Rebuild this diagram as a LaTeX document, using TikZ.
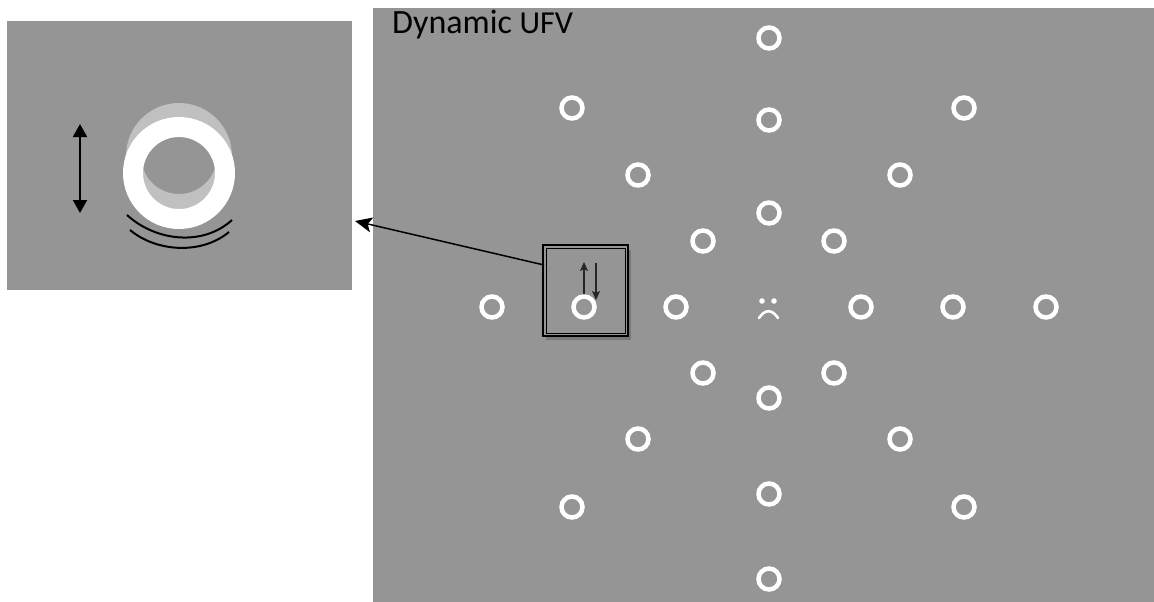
\documentclass[tikz,border=0pt]{standalone}
\usepackage{fontspec}
\setmainfont{Carlito}
\usetikzlibrary{arrows.meta}
\definecolor{bg}{RGB}{149,149,149}
\definecolor{ltgray}{RGB}{192,192,192}
\definecolor{boxshadow}{RGB}{120,120,120}
\begin{document}
\begin{tikzpicture}[x=1pt,y=-1pt,
  ring/.style={circle,draw=white,line width=4.5pt,minimum size=21pt,inner sep=0pt},
  panel/.style={rectangle,fill=bg,inner sep=0pt},
  link/.style={line width=1.5pt,-{Stealth[length=17pt,width=15pt,inset=4pt]}},
  dart/.style={line width=1.3pt,draw=black!85,-{Stealth[length=9pt,width=8pt,inset=2pt]}}]
\useasboundingbox (0,0) rectangle (1154,602);
\fill[white] (0,0) rectangle (1154,602);
% panels
\node[panel,minimum width=345pt,minimum height=269pt] (inset) at (179.5,155.5) {};
\node[panel,minimum width=781pt,minimum height=594pt] (main) at (763.5,305) {};
% title
\node[anchor=base west,inner sep=0pt] (title) at (392,34) {\fontsize{34}{38}\selectfont Dynamic \fontsize{32}{36}\selectfont UFV};
% inset content
\fill[ltgray,even odd rule] (179,156) circle[radius=53] (179,156) circle[radius=38];
\fill[white,even odd rule] (179,173) circle[radius=56] (179,173) circle[radius=36];
\coordinate (ia) at (80,124);
\coordinate (ib) at (80,213);
\draw[line width=2pt,{Triangle[length=13pt,width=14pt]}-{Triangle[length=13pt,width=14pt]}] (ia) -- (ib);
\draw[line width=2pt] (127,215) .. controls (156,241.5) and (203,246.5) .. (232,220);
\draw[line width=2pt] (130,230) .. controls (157,252.5) and (202,254.5) .. (229,232);
% highlighted box
\fill[boxshadow] (546,250) rectangle (631,340);
\node[rectangle,draw=black,line width=2pt,fill=bg,minimum width=85pt,minimum height=91pt,inner sep=0pt] (box) at (585.5,290.5) {};
\draw[line width=0.9pt] ([shift={(4,4)}]box.north west) rectangle ([shift={(-4,-4)}]box.south east);
\coordinate (ua) at (584,297);
\coordinate (ub) at (584,262);
\coordinate (da) at (596,263);
\coordinate (db) at (596,300);
\draw[dart] (ua) -- (ub);
\draw[dart] (da) -- (db);
% link arrow
\coordinate (la) at (544,265);
\coordinate (lb) at (355,221);
\draw[link] (la) -- (lb);
% rings
\foreach \n/\x/\y in {n3/769/38,n2/769/120,n1/769/213,s1/769/398,s2/769/494,s3/769/579,
  w3/492/307,w2/584/307,w1/676/307,e1/861/307,e2/953/307,e3/1046/307,
  a1/572/108,a2/638/175,a3/703/241,b1/964/108,b2/900/175,b3/834/241,
  c1/703/373,c2/638/439,c3/572/507,d1/834/373,d2/900/439,d3/964/507}
  \node[ring] (r\n) at (\x,\y) {};
% face
\fill[white] (762,301) circle[radius=2.8];
\fill[white] (774,301) circle[radius=2.8];
\draw[white,line width=2.6pt,line cap=round] (759,318) .. controls (765,309) and (772,309) .. (778,318);
\end{tikzpicture}
\end{document}
